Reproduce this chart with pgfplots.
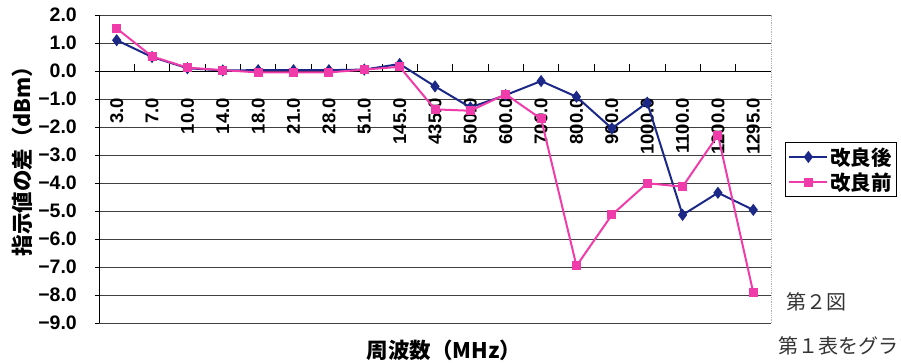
\documentclass[border=0pt]{standalone}
\usepackage{fontspec}
\usepackage{pgfplots}
\pgfplotsset{compat=1.18}
\setmainfont{Liberation Sans}
\newfontfamily\cjk{Noto Sans CJK JP}
\definecolor{kblue}{RGB}{28,40,135}
\definecolor{kpink}{RGB}{240,60,170}
\begin{document}
\begin{tikzpicture}[x=1pt,y=1pt]
\begin{axis}[
  at={(0,0)}, anchor=south west,
  scale only axis, width=672pt, height=308pt,
  xmin=-0.5, xmax=18.5, ymin=-9, ymax=2,
  axis x line=middle, axis y line=left,
  axis line style={-, black, line width=0.8pt},
  xtick={0,...,18},
  xticklabels={3.0,7.0,10.0,14.0,18.0,21.0,28.0,51.0,145.0,435.0,500.0,600.0,700.0,800.0,900.0,1000.0,1100.0,1200.0,1295.0},
  minor xtick={0.5,1.5,...,17.5},
  major x tick style={draw=none},
  minor x tick style={black, line width=0.8pt},
  minor tick length=7pt,
  xtick align=inside,
  ytick={-9,...,2},
  yticklabels={−9.0,−8.0,−7.0,−6.0,−5.0,−4.0,−3.0,−2.0,−1.0,0.0,1.0,2.0},
  ytick align=outside,
  major tick length=4pt,
  ytick style={black, line width=0.8pt},
  ymajorgrids,
  grid style={black!75, line width=0.7pt},
  xticklabel style={rotate=90, anchor=east, inner sep=0pt, font=\bfseries\fontsize{18.5}{18.5}\selectfont},
  xticklabel shift=27pt,
  yticklabel style={anchor=east, inner sep=0pt, font=\bfseries\fontsize{19.5}{19.5}\selectfont},
  yticklabel shift=18pt,
  xlabel={\cjk\bfseries 周波数（MHz）},
  ylabel={\cjk\bfseries 指示値の差（dBm）},
  every axis x label/.style={at={(axis description cs:0.5134,-0.0877)}, anchor=center, font=\fontsize{21.5}{21.5}\selectfont},
  every axis y label/.style={at={(axis description cs:-0.1146,0.542)}, rotate=90, anchor=center, font=\fontsize{21.5}{21.5}\selectfont},
  legend style={at={(axis description cs:1.0208,0.5877)}, anchor=north west, draw=black, line width=0.8pt,
    font=\cjk\bfseries\fontsize{20.5}{20.5}\selectfont, inner sep=3pt, row sep=2pt},
  legend cell align=left,
  legend image code/.code={\draw[mark repeat=2,mark phase=2,#1] plot coordinates {(0pt,0pt) (19pt,0pt) (38pt,0pt)};},
  clip=false,
  after end axis/.code={\draw[gray!60, densely dotted, line width=0.8pt] (rel axis cs:1,0) -- (rel axis cs:1,1);},
]
\addplot[kblue, line width=2pt, mark=diamond*, mark size=4.5pt, mark options={solid, fill=kblue}] coordinates {
(0,1.1) (1,0.5) (2,0.1) (3,0.02) (4,0.03) (5,0.03) (6,0.03) (7,0.05) (8,0.25) (9,-0.55)
(10,-1.3) (11,-0.86) (12,-0.36) (13,-0.92) (14,-2.05) (15,-1.13) (16,-5.14) (17,-4.35) (18,-4.96)};
\addlegendentry{改良後}
\addplot[kpink, line width=2pt, mark=square*, mark size=3.5pt, mark options={solid, fill=kpink}] coordinates {
(0,1.52) (1,0.52) (2,0.12) (3,0.03) (4,-0.05) (5,-0.05) (6,-0.05) (7,0.05) (8,0.15) (9,-1.37)
(10,-1.42) (11,-0.83) (12,-1.71) (13,-6.96) (14,-5.14) (15,-4.01) (16,-4.13) (17,-2.29) (18,-7.92)};
\addlegendentry{改良前}
\end{axis}
\node[anchor=west, inner sep=0pt, text=black!80, font=\cjk\fontsize{20}{20}\selectfont] at (687,21) {第２図};
\node[anchor=west, inner sep=0pt, text=black!80, font=\cjk\fontsize{20}{20}\selectfont] at (679,-23) {第１表をグラフにしたもの};
\pgfresetboundingbox
\useasboundingbox (-99,-40) rectangle (802,323);
\end{tikzpicture}
\end{document}
